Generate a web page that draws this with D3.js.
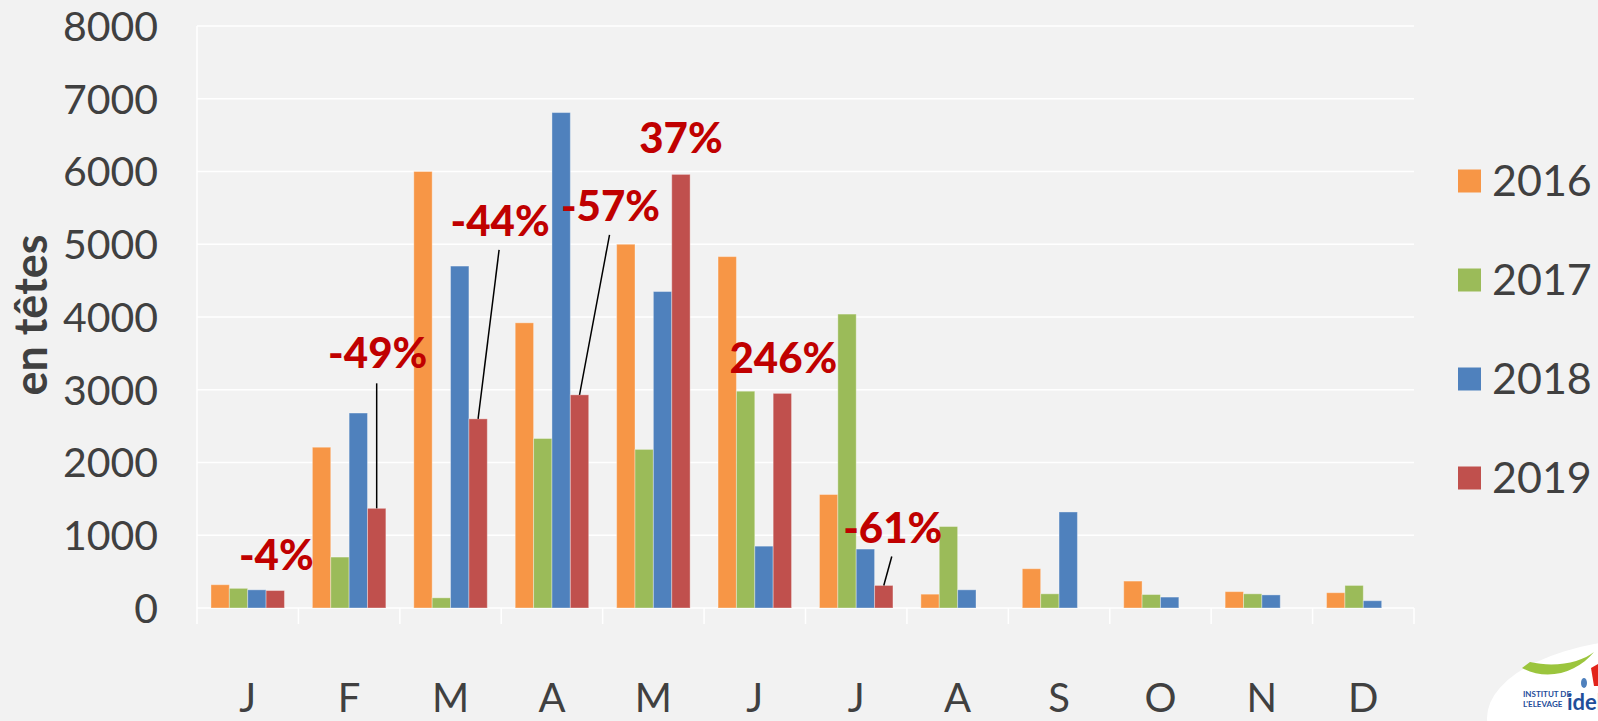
<!DOCTYPE html>
<html>
<head>
<meta charset="utf-8">
<script src="https://cdn.jsdelivr.net/npm/d3@7"></script>
<style>
  body { margin: 0; background: #f2f2f2; }
  svg { display: block; font-family: Lato, "Open Sans", sans-serif; }
</style>
</head>
<body>
<div id="chart-area"></div>
<script>
// Data
var months = ["J", "F", "M", "A", "M", "J", "J", "A", "S", "O", "N", "D"];
var years = ["2016", "2017", "2018", "2019"];
var v2016 = [320, 2210, 6000, 3920, 5000, 4830, 1560, 190, 540, 370, 225, 210];
var v2017 = [270, 700, 140, 2330, 2180, 2980, 4040, 1120, 195, 185, 195, 310];
var v2018 = [250, 2680, 4700, 6810, 4350, 850, 810, 250, 1320, 150, 180, 100];
var v2019 = [240, 1370, 2600, 2930, 5960, 2950, 310, null, null, null, null, null];
var yTicks = [0, 1000, 2000, 3000, 4000, 5000, 6000, 7000, 8000];
var colors = ["#f79646", "#9bbb59", "#4f81bd", "#c0504d"];

// evolution 2019 / 2018, shown above the months
var pctMonth = [0, 1, 2, 3, 4, 5, 6];
var pctLabels = ["-4%", "-49%", "-44%", "-57%", "37%", "246%", "-61%"];

var margin = { left: 197, right: 184, top: 26, bottom: 113 },
    width = 1598 - margin.left - margin.right,
    height = 721 - margin.top - margin.bottom;

var svg = d3.select("#chart-area").append("svg")
    .attr("width", 1598)
    .attr("height", 721);

svg.append("rect").attr("width", 1598).attr("height", 721).attr("fill", "#f2f2f2");

var g = svg.append("g")
    .attr("transform", "translate(" + margin.left + "," + margin.top + ")");

var series = [v2016, v2017, v2018, v2019];
var rows = months.map(function(m, i) {
    return { i: i, vals: series.map(function(s) { return s[i]; }) };
});

// Scales
var x0 = d3.scaleBand().domain(d3.range(months.length)).range([0, width]);
var x1 = d3.scaleBand().domain(years).range([0, x0.bandwidth()])
    .paddingInner(0).paddingOuter(0.76);
var y = d3.scaleLinear().domain([0, 8000]).range([height, 0]);

// Gridlines
g.selectAll(".grid").data(yTicks).enter().append("line")
    .attr("x1", 0).attr("x2", width)
    .attr("y1", d => y(d)).attr("y2", d => y(d))
    .attr("stroke", "#ffffff").attr("stroke-width", 1.5);

// Left axis line
g.append("line").attr("x1", 0).attr("x2", 0)
    .attr("y1", y(8000)).attr("y2", height)
    .attr("stroke", "#ffffff").attr("stroke-width", 1.5);

// category ticks
g.selectAll(".ctick").data(d3.range(months.length + 1)).enter().append("line")
    .attr("x1", d => d * x0.step()).attr("x2", d => d * x0.step())
    .attr("y1", height).attr("y2", height + 16)
    .attr("stroke", "#ffffff").attr("stroke-width", 1.5);

// Y tick labels
g.selectAll(".ylab").data(yTicks).enter().append("text")
    .attr("x", -39).attr("y", d => y(d))
    .attr("dy", "0.36em")
    .attr("text-anchor", "end")
    .attr("font-size", "41px")
    .attr("fill", "#404040")
    .text(d => d);

// Month labels
g.selectAll(".xlab").data(months).enter().append("text")
    .attr("x", (d, i) => x0(i) + x0.bandwidth() / 2)
    .attr("y", height + 104)
    .attr("text-anchor", "middle")
    .attr("font-size", "40px")
    .attr("fill", "#404040")
    .text(d => d);

// Y axis title
svg.append("text")
    .attr("transform", "translate(47,315) rotate(-90)")
    .attr("text-anchor", "middle")
    .attr("font-size", "45px")
    .attr("font-weight", "bold")
    .attr("fill", "#404040")
    .text("en têtes");

// Bars
var groups = g.selectAll(".month").data(rows).enter().append("g")
    .attr("transform", d => "translate(" + x0(d.i) + ",0)");

groups.selectAll("rect")
    .data(d => d.vals.map((v, k) => ({ year: years[k], k: k, v: v })).filter(e => e.v != null))
    .enter().append("rect")
    .attr("x", d => x1(d.year))
    .attr("width", x1.bandwidth())
    .attr("y", d => y(d.v))
    .attr("height", d => height - y(d.v))
    .attr("fill", d => colors[d.k])
    .attr("stroke", "rgba(255,255,255,0.35)")
    .attr("stroke-width", 1);

// Annotations: label centre and leader-line end, as offsets from the top of the 2019 bar
var annotLayout = [
    { dx: 1, dy: -36 },
    { dx: 1, dy: -155, lx: 0, ly: -125 },
    { dx: 22, dy: -198, lx: 21, ly: -169 },
    { dx: 31, dy: -189, lx: 30, ly: -160 },
    { dx: 0, dy: -37 },
    { dx: 1, dy: -36 },
    { dx: 9, dy: -58, lx: 8, ly: -29 }
];

var annot = g.selectAll(".annot").data(pctMonth).enter().append("g");

annot.each(function(m, i) {
    var bx = x0(m) + x1("2019") + x1.bandwidth() / 2,
        by = y(v2019[m]),
        lay = annotLayout[i],
        el = d3.select(this);
    if (lay.lx != null) {
        el.append("line")
            .attr("x1", bx).attr("y1", by)
            .attr("x2", bx + lay.lx).attr("y2", by + lay.ly)
            .attr("stroke", "#000").attr("stroke-width", 1.5);
    }
    el.append("text")
        .attr("x", bx + lay.dx).attr("y", by + lay.dy)
        .attr("dy", "0.36em")
        .attr("text-anchor", "middle")
        .attr("font-size", "42px")
        .attr("font-weight", "900")
        .attr("fill", "#c00000")
        .text(pctLabels[i]);
});

// Legend
var legend = svg.selectAll(".legend").data(years).enter().append("g")
    .attr("transform", (d, i) => "translate(1458," + (181 + i * 99) + ")");
legend.append("rect")
    .attr("x", 0).attr("y", -11.5).attr("width", 23).attr("height", 23)
    .attr("fill", (d, i) => colors[i]);
legend.append("text")
    .attr("x", 34).attr("y", 0).attr("dy", "0.36em")
    .attr("font-size", "43px")
    .attr("fill", "#404040")
    .text(d => d);

// Logo corner
var logo = svg.append("g");
logo.append("ellipse")
    .attr("cx", 1660).attr("cy", 718).attr("rx", 173).attr("ry", 80)
    .attr("fill", "#ffffff");
logo.append("path")
    .attr("d", "M1522,668 C1548,682 1578,672 1594,652 C1582,662 1556,668 1530,662 Z")
    .attr("fill", "#9bc53d");
logo.append("path")
    .attr("d", "M1591,668 L1598,664 L1598,686 L1594,686 Z")
    .attr("fill", "#e2231a");
logo.append("ellipse")
    .attr("cx", 1584).attr("cy", 683).attr("rx", 3).attr("ry", 5)
    .attr("fill", "#4f81bd");
logo.append("text")
    .attr("x", 1523).attr("y", 697)
    .attr("font-size", "8px").attr("font-weight", "bold").attr("fill", "#1f4e9a")
    .text("INSTITUT DE");
logo.append("text")
    .attr("x", 1523).attr("y", 707)
    .attr("font-size", "8px").attr("font-weight", "bold").attr("fill", "#1f4e9a")
    .text("L'ELEVAGE");
logo.append("text")
    .attr("x", 1567).attr("y", 710)
    .attr("font-size", "22px").attr("font-weight", "bold").attr("fill", "#1f4e9a")
    .text("idele");
</script>
</body>
</html>
